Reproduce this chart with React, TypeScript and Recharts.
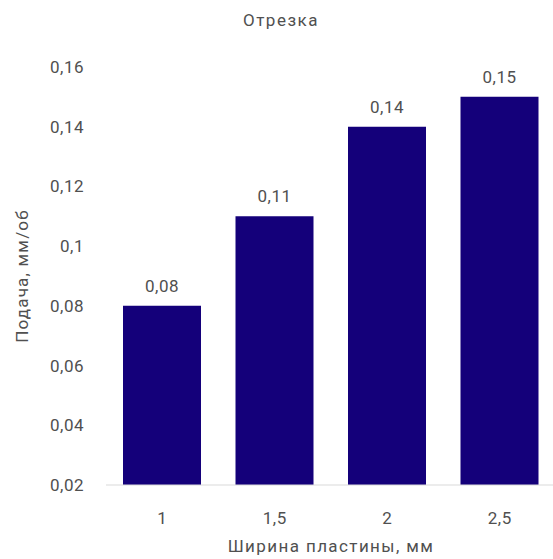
import { BarChart, Bar, XAxis, YAxis, LabelList } from "recharts";

const widths = ["1", "1,5", "2", "2,5"];
const feeds = [0.08, 0.11, 0.14, 0.15];
const yTicks = [0.02, 0.04, 0.06, 0.08, 0.1, 0.12, 0.14, 0.16];

const data = widths.map((w, i) => ({ width: w, feed: feeds[i] }));

const TEXT = "#505050";
const FONT = "Roboto, 'DejaVu Sans', sans-serif";
const comma = (v: any) => String(v).replace(".", ",");

export default function App() {
    return (
        <div style={{ position: "absolute", left: 0, top: 0, width: 553, height: 559, overflow: "hidden", background: "#fff", fontFamily: FONT }}>
            <div style={{ position: "absolute", left: 0, top: 10, width: 562, textAlign: "center", fontSize: 17, lineHeight: "20px", color: TEXT, letterSpacing: 1.5 }}>
                Отрезка
            </div>
            <BarChart width={560} height={559} data={data} margin={{ top: 67, right: 4, left: 16, bottom: 34 }} barSize={78}>
                <XAxis
                    dataKey="width"
                    height={40}
                    tickLine={false}
                    axisLine={{ stroke: "#d9d9d9" }}
                    tickMargin={21}
                    tick={{ fill: TEXT, fontSize: 17, fontFamily: FONT, letterSpacing: 0.5 }}
                    label={{ value: "Ширина пластины, мм", position: "bottom", offset: 15, fill: TEXT, fontSize: 17, fontFamily: FONT, letterSpacing: 1.4 }}
                />
                <YAxis
                    width={90}
                    domain={[0.02, 0.16]}
                    ticks={yTicks}
                    tickFormatter={comma}
                    tickLine={false}
                    axisLine={false}
                    tickMargin={16}
                    tick={{ fill: TEXT, fontSize: 17, fontFamily: FONT, letterSpacing: 0.5 }}
                    label={{ value: "Подача, мм/об", angle: -90, position: "insideLeft", offset: 6, fill: TEXT, fontSize: 17, fontFamily: FONT, letterSpacing: 1.2, style: { textAnchor: "middle" } }}
                />
                <Bar dataKey="feed" fill="#14007a" isAnimationActive={false}>
                    <LabelList dataKey="feed" position="top" offset={14} formatter={comma} fill={TEXT} fontSize={17} fontFamily={FONT} letterSpacing={0.5} />
                </Bar>
            </BarChart>
        </div>
    );
}
